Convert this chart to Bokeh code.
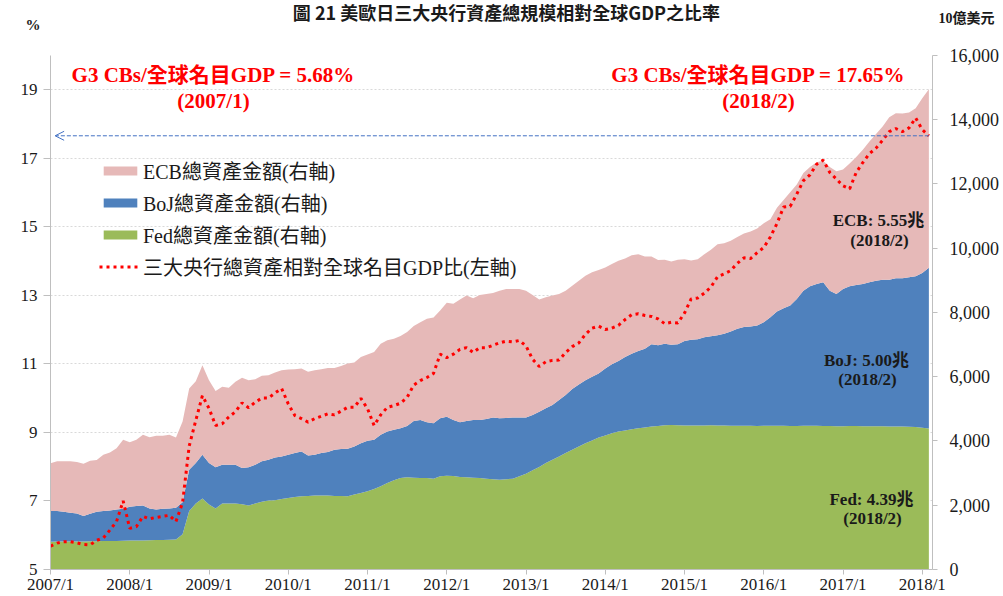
from bokeh.plotting import figure
from bokeh.models import (Range1d, LinearAxis, FixedTicker, NumeralTickFormatter,
                          Legend, LegendItem, Label, Arrow, OpenHead, ColumnDataSource)
from bokeh.embed import file_html
from bokeh.resources import INLINE

# ---------------- data ----------------
months = list(range(134))  # 2007/1 .. 2018/2
tick_months = [0, 12, 24, 36, 48, 60, 72, 84, 96, 108, 120, 132]
tick_labels = ["2007/1", "2008/1", "2009/1", "2010/1", "2011/1", "2012/1",
               "2013/1", "2014/1", "2015/1", "2016/1", "2017/1", "2018/1"]

fed = [867, 868, 870, 870, 872, 872, 875, 880, 885, 888,
       890, 895, 900, 905, 905, 910, 915, 920, 925, 935,
       1093, 1817, 2052, 2207, 2020, 1898, 2052, 2052, 2052, 2030,
       1990, 2052, 2104, 2146, 2157, 2197, 2228, 2259, 2280, 2290,
       2300, 2300, 2300, 2290, 2285, 2280, 2332, 2383, 2435, 2507,
       2590, 2693, 2775, 2847, 2868, 2857, 2847, 2847, 2826, 2898,
       2919, 2909, 2878, 2868, 2857, 2847, 2826, 2806, 2796, 2806,
       2827, 2899, 2982, 3085, 3188, 3312, 3415, 3518, 3621, 3724,
       3827, 3931, 4013, 4106, 4168, 4240, 4292, 4323, 4364, 4395,
       4416, 4447, 4467, 4488, 4498, 4488, 4478, 4478, 4478, 4478,
       4488, 4480, 4480, 4475, 4475, 4470, 4470, 4465, 4470, 4475,
       4470, 4470, 4465, 4465, 4470, 4470, 4470, 4465, 4465, 4460,
       4460, 4465, 4465, 4460, 4460, 4460, 4455, 4450, 4450, 4445,
       4440, 4430, 4410, 4390]

boj = [950, 949, 926, 895, 873, 790, 859, 916, 932, 950,
       979, 995, 1051, 1067, 1088, 990, 954, 970, 975, 985,
       1000, 1288, 1260, 1362, 1292, 1280, 1208, 1208, 1208, 1127,
       1188, 1208, 1260, 1269, 1330, 1321, 1341, 1362, 1393, 1259,
       1269, 1321, 1352, 1434, 1460, 1475, 1496, 1548, 1568, 1527,
       1599, 1599, 1569, 1548, 1600, 1765, 1806, 1734, 1724, 1807,
       1837, 1744, 1703, 1754, 1796, 1806, 1858, 1919, 1909, 1909,
       1898, 1826, 1743, 1723, 1723, 1702, 1702, 1754, 1806, 1888,
       1930, 1960, 1981, 1991, 2084, 2146, 2197, 2290, 2352, 2403,
       2455, 2558, 2507, 2538, 2497, 2517, 2630, 2672, 2682, 2744,
       2765, 2804, 2855, 2932, 3015, 3071, 3092, 3128, 3226, 3376,
       3557, 3660, 3747, 3953, 4206, 4340, 4413, 4470, 4211, 4113,
       4268, 4345, 4387, 4423, 4475, 4526, 4562, 4567, 4608, 4613,
       4649, 4690, 4813, 5000]

ecb = [1485, 1547, 1568, 1599, 1598, 1628, 1650, 1609, 1752, 1804,
       1907, 2144, 2011, 2062, 2196, 2216, 2289, 2268, 2289, 2187,
       2509, 2528, 2547, 2785, 2578, 2372, 2425, 2394, 2580, 2807,
       2712, 2661, 2661, 2630, 2641, 2682, 2652, 2610, 2579, 2600,
       2631, 2610, 2620, 2548, 2589, 2652, 2610, 2681, 2682, 2733,
       2837, 2837, 2836, 2868, 2919, 2951, 3043, 3218, 3290, 3352,
       3539, 3611, 3817, 3900, 3787, 3889, 3889, 3879, 3971, 4013,
       4003, 4003, 3951, 3734, 3487, 3456, 3405, 3301, 3249, 3219,
       3229, 3250, 3250, 3219, 3146, 3116, 3116, 3064, 3064, 3013,
       2868, 2734, 2652, 2610, 2589, 2631, 2548, 2465, 2496, 2589,
       2692, 2837, 2817, 2817, 2857, 2910, 2951, 3013, 3075, 3043,
       3229, 3363, 3528, 3560, 3663, 3715, 3786, 3785, 3849, 3817,
       3714, 3818, 3982, 4178, 4383, 4560, 4766, 5055, 5138, 5128,
       5127, 5230, 5437, 5550]

ratio = [5.68, 5.77, 5.81, 5.81, 5.78, 5.73, 5.72, 5.85, 5.92, 6.15,
         6.40, 7.00, 6.20, 6.25, 6.55, 6.48, 6.52, 6.55, 6.58, 6.40,
         6.95, 8.60, 9.35, 10.07, 9.70, 9.20, 9.25, 9.45, 9.60, 9.86,
         9.72, 9.88, 10.00, 10.00, 10.15, 10.28, 9.83, 9.49, 9.40, 9.30,
         9.40, 9.47, 9.54, 9.51, 9.62, 9.73, 9.73, 9.99, 9.69, 9.20,
         9.51, 9.73, 9.78, 9.85, 10.02, 10.38, 10.51, 10.60, 10.72, 11.28,
         11.18, 11.28, 11.42, 11.47, 11.33, 11.47, 11.47, 11.54, 11.61, 11.66,
         11.64, 11.68, 11.52, 11.13, 10.92, 11.06, 11.10, 11.11, 11.33, 11.50,
         11.61, 11.86, 12.04, 12.10, 12.00, 12.04, 12.12, 12.29, 12.43, 12.46,
         12.41, 12.38, 12.31, 12.17, 12.21, 12.19, 12.48, 12.89, 12.92, 13.06,
         13.24, 13.54, 13.62, 13.72, 13.93, 14.09, 14.07, 14.24, 14.39, 14.70,
         15.09, 15.57, 15.59, 15.95, 16.34, 16.51, 16.82, 16.94, 16.58, 16.39,
         16.19, 16.10, 16.58, 16.87, 17.13, 17.29, 17.52, 17.77, 17.86, 17.77,
         17.88, 18.17, 17.83, 17.65]

ref_ratio = 17.65
left_ticks = [5, 7, 9, 11, 13, 15, 17, 19]
right_ticks = [0, 2000, 4000, 6000, 8000, 10000, 12000, 14000, 16000]
left_bounds = (5, 20)
right_bounds = (0, 16000)

series_names = ["ECB總資產金額(右軸)", "BoJ總資產金額(右軸)", "Fed總資產金額(右軸)",
                "三大央行總資產相對全球名目GDP比(左軸)"]
title_text = "圖 21  美歐日三大央行資產總規模相對全球GDP之比率"

# ---------------- layout / styles ----------------
W, H = 1003, 596
FL, FR, FT_AXIS, FB = 50, 932, 55, 572          # frame edges (axes top at 55)
axis_px = FB - FT_AXIS                          # pixels spanned by the axes
L_TOP = left_bounds[0] + (left_bounds[1] - left_bounds[0]) * FB / axis_px
R_TOP = right_bounds[1] * FB / axis_px

SERIF = "Liberation Serif, Noto Sans CJK TC"
C_FED = "#9BBB59"
C_BOJ = "#4F81BD"
C_ECB = "#E6B9B8"
C_RED = "#FF0000"
C_AXIS = "#BFBFBF"
C_TXT = "#1a1a1a"

src = ColumnDataSource(dict(m=months, fed=fed, boj=boj, ecb=ecb, ratio=ratio))

p = figure(width=W, height=H, output_backend="svg", toolbar_location=None,
           x_range=Range1d(0, 133.55), y_range=Range1d(left_bounds[0], L_TOP),
           min_border_left=FL, min_border_right=W - FR, min_border_top=0,
           min_border_bottom=H - FB, outline_line_color=None,
           background_fill_color="white", border_fill_color="white")

p.extra_y_ranges = {"right": Range1d(0, R_TOP)}

areas = p.varea_stack(["fed", "boj", "ecb"], x="m", source=src,
                      color=[C_FED, C_BOJ, C_ECB], y_range_name="right")
r_fed, r_boj, r_ecb = areas

r_ratio = p.line(x="m", y="ratio", source=src, line_color=C_RED,
                 line_width=3, line_dash="3 4")

# axes
xa = p.xaxis[0]
xa.ticker = FixedTicker(ticks=tick_months)
xa.major_label_overrides = dict(zip(tick_months, tick_labels))
ya = p.yaxis[0]
ya.ticker = FixedTicker(ticks=left_ticks)
ya.bounds = left_bounds

ra = LinearAxis(y_range_name="right", ticker=FixedTicker(ticks=right_ticks),
                formatter=NumeralTickFormatter(format="0,0"), bounds=right_bounds)
p.add_layout(ra, "right")

for ax, lab_size, tout, stand in ((xa, "17px", 5, 0), (ya, "17px", 7, 6), (ra, "18px", 5, 12)):
    ax.axis_line_color = C_AXIS
    ax.major_tick_line_color = C_AXIS
    ax.minor_tick_line_color = None
    ax.major_tick_in = 0
    ax.major_tick_out = tout
    ax.major_label_standoff = stand
    ax.major_label_text_font = SERIF
    ax.major_label_text_font_size = lab_size
    ax.major_label_text_color = C_TXT

# unit captions above each axis ("%" left, "10億美元" right)
pct_val = left_bounds[0] + (FB - 25) * (L_TOP - left_bounds[0]) / FB
unit_val = (FB - 18) * R_TOP / FB
pct_axis = LinearAxis(ticker=FixedTicker(ticks=[pct_val]),
                      major_label_overrides={pct_val: "%"})
unit_axis = LinearAxis(y_range_name="right", ticker=FixedTicker(ticks=[unit_val]),
                       major_label_overrides={unit_val: "10億美元"})
for ax, sz, st in ((pct_axis, "15px", -23), (unit_axis, "14px", -64)):
    ax.axis_line_color = None
    ax.major_tick_line_color = None
    ax.minor_tick_line_color = None
    ax.major_tick_in = 0
    ax.major_tick_out = 0
    ax.major_label_standoff = st
    ax.major_label_text_font = SERIF
    ax.major_label_text_font_size = sz
    ax.major_label_text_font_style = "bold"
    ax.major_label_text_color = C_TXT
p.add_layout(pct_axis, "left")
p.add_layout(unit_axis, "right")

p.xgrid.visible = False
p.ygrid.ticker = FixedTicker(ticks=left_ticks)
p.ygrid.grid_line_color = "#D9D9D9"
p.ygrid.grid_line_dash = "2 2"

# reference arrow (ratio level at 2018/2 pointing back to the start)
p.add_layout(Arrow(end=OpenHead(size=9, line_color="#4472C4", line_width=1),
                   x_start=months[-1], y_start=ref_ratio, x_end=0.7, y_end=ref_ratio,
                   line_color="#4472C4", line_width=1, line_dash="4 2"))

# legend
legend = Legend(items=[LegendItem(label=series_names[0], renderers=[r_ecb]),
                       LegendItem(label=series_names[1], renderers=[r_boj]),
                       LegendItem(label=series_names[2], renderers=[r_fed]),
                       LegendItem(label=series_names[3], renderers=[r_ratio])],
                location=(49, 288), padding=0, margin=0, spacing=3,
                glyph_width=42, glyph_height=11, label_height=22, label_standoff=2,
                label_text_font=SERIF, label_text_font_size="20px",
                label_text_color=C_TXT,
                background_fill_alpha=0, border_line_alpha=0)
p.add_layout(legend)


def lab(text, x, y, size, color=C_TXT, bold=True, font=SERIF,
        align="center", baseline="middle"):
    # x, y in screen pixels measured from the frame's bottom-left corner
    p.add_layout(Label(x=x, y=y, x_units="screen", y_units="screen", text=text,
                       text_font=font, text_font_size=f"{size}px",
                       text_font_style="bold" if bold else "normal",
                       text_color=color, text_align=align, text_baseline=baseline))


lab(title_text, 458, FB - 1, 18, font="Noto Sans CJK TC", baseline="top")

lab(f"G3 CBs/全球名目GDP = {ratio[0]:.2f}%", 163, 495, 21, color=C_RED)
lab("(2007/1)", 163, 469, 21, color=C_RED)
lab(f"G3 CBs/全球名目GDP = {ratio[-1]:.2f}%", 708, 495, 21, color=C_RED)
lab("(2018/2)", 708, 469, 21, color=C_RED)

lab(f"ECB: {ecb[-1]/1000:.2f}兆", 828, 349, 17)
lab("(2018/2)", 829, 329, 17)
lab(f"BoJ: {boj[-1]/1000:.2f}兆", 816, 209, 17)
lab("(2018/2)", 817, 190, 17)
lab(f"Fed: {fed[-1]/1000:.2f}兆", 821, 70, 17)
lab("(2018/2)", 822, 51, 17)

open("out.html", "w").write(file_html(p, INLINE))
